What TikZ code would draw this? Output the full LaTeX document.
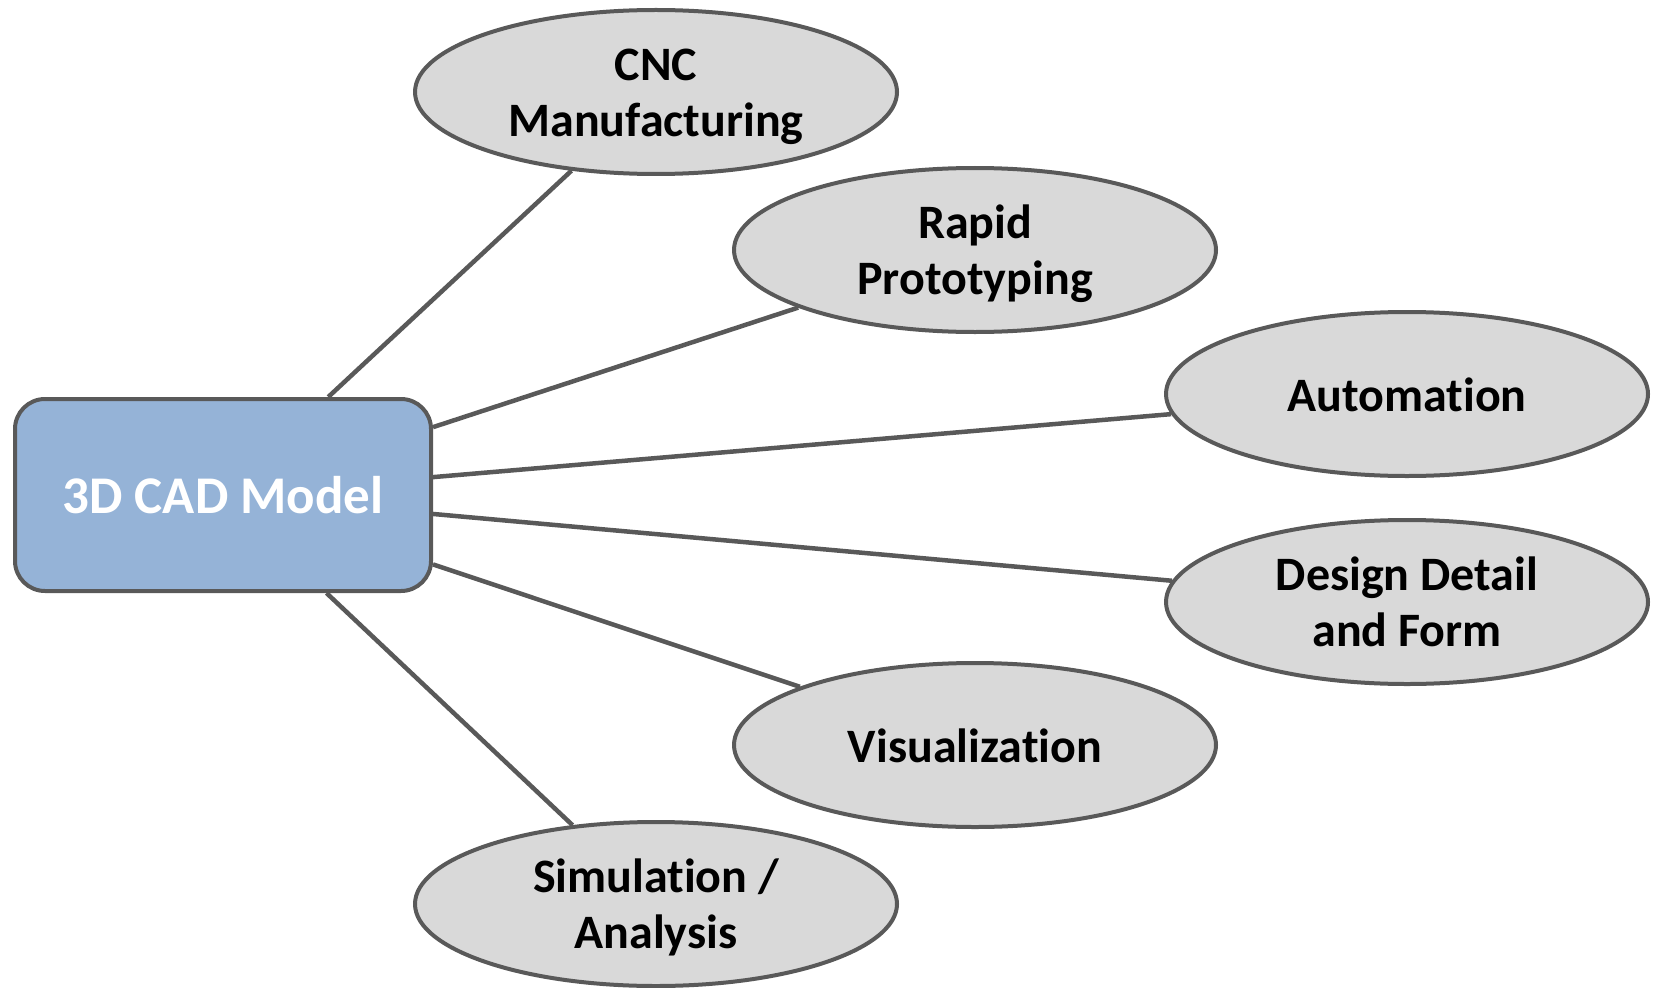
\documentclass[tikz,border=0pt]{standalone}
\usepackage{fontspec}
\setmainfont[RawFeature={-liga;-clig;-dlig;-rlig;-calt}]{Carlito}
\usetikzlibrary{shapes.geometric}
\definecolor{edgegray}{HTML}{595959}
\definecolor{ellfill}{HTML}{D9D9D9}
\definecolor{boxfill}{HTML}{95B3D7}
\tikzset{
  leaf/.style={ellipse, draw=edgegray, fill=ellfill, line width=4pt,
    minimum width=482pt, minimum height=164pt, inner sep=0pt, align=center,
    font=\fontsize{48}{56}\selectfont\bfseries, text=black},
  leafone/.style={leaf, text height=46pt, text depth=12pt},
  leaftwo/.style={leaf, text height=101pt, text depth=12pt},
  hub/.style={rectangle, rounded corners=30pt, draw=edgegray, fill=boxfill, line width=4pt,
    minimum width=416pt, minimum height=192pt, inner sep=0pt, align=center,
    font=\fontsize{53}{64}\selectfont\bfseries, text=white,
    text height=47pt, text depth=10pt},
  link/.style={draw=edgegray, line width=4.5pt}
}
\begin{document}
\begin{tikzpicture}[x=1pt,y=-1pt]
\useasboundingbox (0,0) rectangle (1653,987);
\node[hub] (cad) at (223,495) {3D CAD Model};
\node[leaftwo] (cnc) at (656,92) {CNC\\Manufacturing};
\node[leaftwo] (rapid) at (975,250) {Rapid\\Prototyping};
\node[leafone] (auto) at (1407,394) {Automation};
\node[leaftwo] (design) at (1407,602) {Design Detail\\and Form};
\node[leafone] (vis) at (975,745) {Visualization};
\node[leaftwo] (sim) at (656,904) {Simulation /\\Analysis};
\foreach \t in {cnc,rapid,auto,design,vis,sim}
  \draw[link] (cad) -- (\t);
\end{tikzpicture}
\end{document}
